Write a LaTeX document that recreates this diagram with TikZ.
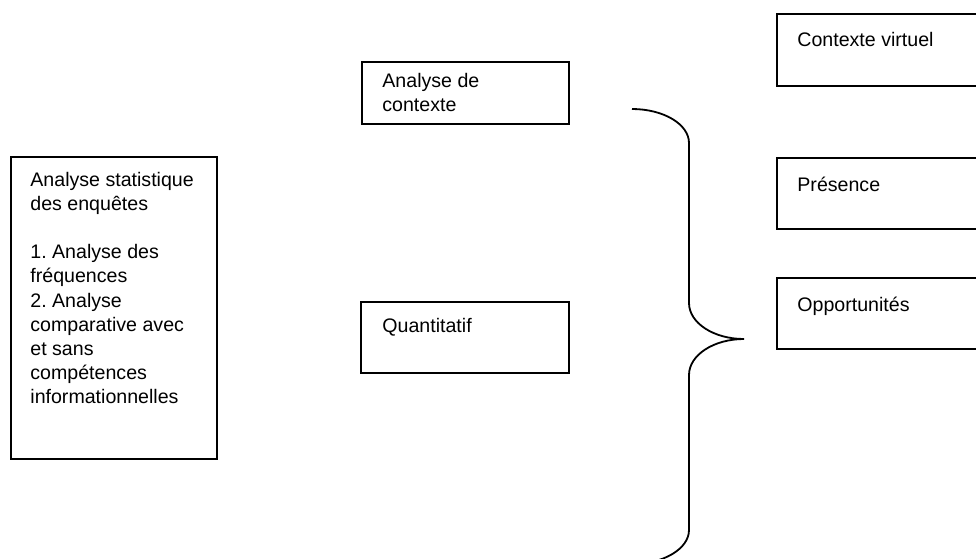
\documentclass[tikz,border=0pt]{standalone}
\usepackage{fontspec}
\setmainfont{Liberation Sans}
\usepackage{tikz}
\frenchspacing

\tikzset{
	box/.style={draw, line width=1pt, anchor=north west, inner sep=0pt},
	lbl/.style={anchor=north west, inner sep=0pt, align=left, font=\fontsize{9.8}{12.1}\selectfont}
}

\begin{document}
\begin{tikzpicture}[x=0.5pt,y=-0.5pt]
				\useasboundingbox (0,0) rectangle (976,558);
				\clip (0,0) rectangle (976,558);
				
				% boxes
				\node [box, minimum width=103pt, minimum height=151pt] (stat) at (10,156) {};
				\node [box, minimum width=103.5pt, minimum height=31pt] (ctx) at (361,61) {};
				\node [box, minimum width=104pt, minimum height=35.5pt] (quant) at (360,301) {};
				\node [box, minimum width=103.5pt, minimum height=36pt] (virt) at (776,13) {};
				\node [box, minimum width=103.5pt, minimum height=35.5pt] (pres) at (776,157) {};
				\node [box, minimum width=103.5pt, minimum height=35.5pt] (opp) at (776,277) {};
				
				\node [lbl] (stattxt) at (30,171.5) {Analyse statistique\\des enquêtes\\[12.1pt]1. Analyse des\\fréquences\\2. Analyse\\comparative avec\\et sans\\compétences\\informationnelles};
				\node [lbl] (ctxtxt) at (382,73) {Analyse de\\contexte};
				\node [lbl] (quanttxt) at (382,318) {Quantitatif};
				\node [lbl] (virttxt) at (797,32) {Contexte virtuel};
				\node [lbl] (prestxt) at (797,177) {Présence};
				\node [lbl] (opptxt) at (797,297) {Opportunités};
				
				% brace
				\coordinate (tip) at (744,339);
				\draw [line width=0.9pt] (632,109) .. controls (663.5,109) and (689,124.2) .. (689,143)
					-- (689,303) .. controls (689,322.9) and (713.6,339) .. (tip)
					.. controls (713.6,339) and (689,355.1) .. (689,375)
					-- (689,530) .. controls (689,548.8) and (663.5,564) .. (632,564);
\end{tikzpicture}
\end{document}
